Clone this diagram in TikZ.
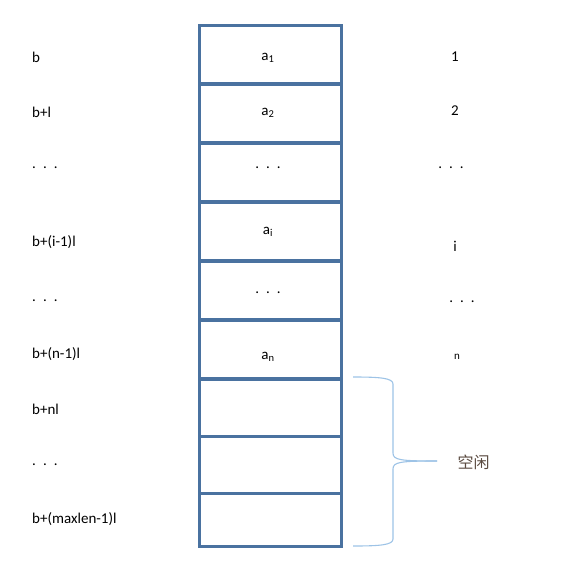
\documentclass[tikz,border=0pt]{standalone}
\usepackage{fontspec}
\setmainfont{Carlito}
\newfontfamily\cjk{Noto Sans CJK SC}
\definecolor{cellblue}{HTML}{4A72A0}
\definecolor{braceblue}{HTML}{9DC3E6}
\definecolor{cjktext}{HTML}{5A4A40}
\tikzset{
  cell/.style={draw=cellblue, line width=1.5pt, minimum width=141pt, minimum height=57pt, inner sep=0pt, anchor=north west},
  lbl/.style={font=\fontsize{15}{17}\selectfont, text=black, inner sep=0pt},
}
\begin{document}
\begin{tikzpicture}[x=1pt,y=-1pt]
\useasboundingbox (0,0) rectangle (579,582);
% cells
\node[cell] (c1) at (199,25) {};
\node[cell] (c2) at (199,84) {};
\node[cell] (c3) at (199,143) {};
\node[cell] (c4) at (199,202) {};
\node[cell] (c5) at (199,261) {};
\node[cell] (c6) at (199,320) {};
\node[cell] (c7) at (199,379) {};
\node[cell] (c8) at (199,435) {};
\node[cell, minimum height=52pt] (c9) at (199,493) {};
\draw[cellblue, line width=2.6pt] (c1.north west) rectangle (c9.south east);
% cell texts
\node[lbl] (t1) at (268,58) {a\textsubscript{1}};
\node[lbl] (t2) at (268,113) {a\textsubscript{2}};
\node[lbl] (t3) at (268,168) {. \,. \,.};
\node[lbl] (t4) at (268,232) {a\textsubscript{i}};
\node[lbl] (t5) at (268,293) {. \,. \,.};
\node[lbl] (t6) at (268,357) {a\textsubscript{n}};
% left labels
\node[lbl, anchor=west] (l1) at (32,57) {b};
\node[lbl, anchor=west] (l2) at (32,112) {b+l};
\node[lbl, anchor=west] (l3) at (32,168) {. \,. \,.};
\node[lbl, anchor=west] (l4) at (32,242) {b+(i-1)l};
\node[lbl, anchor=west] (l5) at (32,301) {. \,. \,.};
\node[lbl, anchor=west] (l6) at (32,354) {b+(n-1)l};
\node[lbl, anchor=west] (l7) at (32,409) {b+nl};
\node[lbl, anchor=west] (l8) at (32,465) {. \,. \,.};
\node[lbl, anchor=west] (l9) at (32,519) {b+(maxlen-1)l};
% right labels
\node[lbl] (r1) at (455,57) {1};
\node[lbl] (r2) at (455,111) {2};
\node[lbl] (r3) at (451,168) {. \,. \,.};
\node[lbl] (r4) at (455,246) {i};
\node[lbl] (r5) at (462,302) {. \,. \,.};
\node[lbl, font=\fontsize{11}{13}\selectfont] (r6) at (457,357) {n};
% brace
\coordinate (bt) at (353,377);
\coordinate (bb) at (353,546);
\coordinate (tip) at (437,461);
\draw[braceblue, line width=1.1pt]
  (bt) .. controls (380,377) and (393,378) .. (393,384)
  -- (393,453) .. controls (393,460) and (400,461) .. (tip);
\draw[braceblue, line width=1.1pt]
  (bb) .. controls (380,546) and (393,545) .. (393,539)
  -- (393,469) .. controls (393,462) and (400,461) .. (tip);
\node[font=\cjk\fontsize{16}{18}\selectfont, text=cjktext, anchor=west] (free) at (454,462) {空闲};
\end{tikzpicture}
\end{document}
